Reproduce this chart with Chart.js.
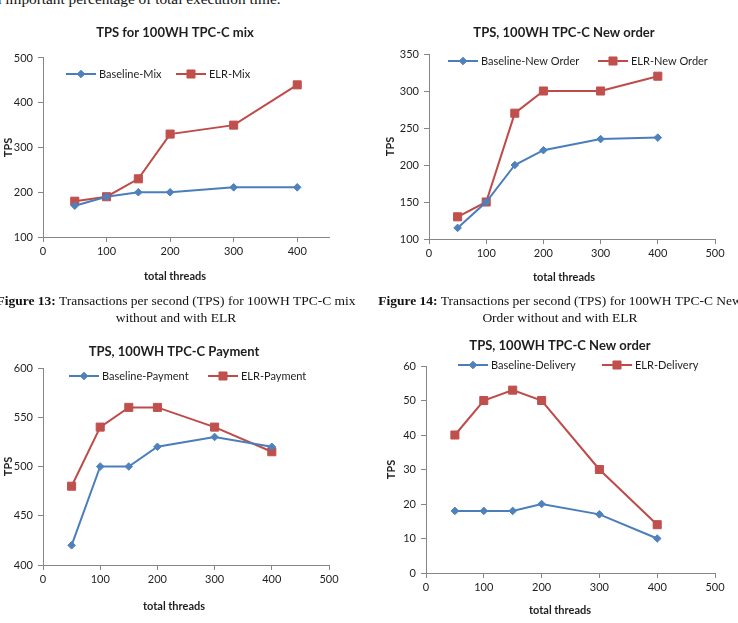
<!DOCTYPE html>
<html>
<head>
<meta charset="utf-8">
<script src="https://cdn.jsdelivr.net/npm/chart.js@4.4.1/dist/chart.umd.min.js"></script>
<style>
html,body{margin:0;padding:0;background:#fff;}
body{width:738px;height:623px;overflow:hidden;position:relative;font-family:"Liberation Serif","Times New Roman",serif;color:#111;}
canvas{position:absolute;}
.cap{position:absolute;white-space:nowrap;font-size:13.5px;line-height:17px;text-align:center;width:500px;}
</style>
</head>
<body>
<div style="position:absolute;left:-13px;top:-10.5px;font-size:15.3px;line-height:17px;white-space:nowrap;">an important percentage of total execution time.</div>
<canvas id="c1"></canvas>
<canvas id="c2"></canvas>
<canvas id="c3"></canvas>
<canvas id="c4"></canvas>
<div class="cap" style="left:-74px;top:292px;"><b>Figure 13:</b> Transactions per second (TPS) for 100WH TPC-C mix<br>without and with ELR</div>
<div class="cap" style="left:310px;top:292px;"><b>Figure 14:</b> Transactions per second (TPS) for 100WH TPC-C New<br>Order without and with ELR</div>
<script>
// ---- data ----
const threads = [50, 100, 150, 200, 300, 400];

const mixBaseline = [170, 190, 200, 200, 211, 211];
const mixELR      = [180, 190, 230, 330, 350, 440];

const newOrderBaseline = [115, 150, 200, 220, 235, 237];
const newOrderELR      = [130, 150, 270, 300, 300, 320];

const paymentBaseline = [420, 500, 500, 520, 530, 520];
const paymentELR      = [480, 540, 560, 560, 540, 515];

const deliveryBaseline = [18, 18, 18, 20, 17, 10];
const deliveryELR      = [40, 50, 53, 50, 30, 14];

const xTicksMix = [0, 100, 200, 300, 400];
const xTicks    = [0, 100, 200, 300, 400, 500];
const yTicksMix      = [100, 200, 300, 400, 500];
const yTicksNewOrder = [100, 150, 200, 250, 300, 350];
const yTicksPayment  = [400, 450, 500, 550, 600];
const yTicksDelivery = [0, 10, 20, 30, 40, 50, 60];

const titles = ['TPS for 100WH TPC-C mix', 'TPS, 100WH TPC-C New order', 'TPS, 100WH TPC-C Payment', 'TPS, 100WH TPC-C New order'];
const xAxisTitle = 'total threads';
const yAxisTitle = 'TPS';

// ---- style ----
const FONT = 'Lato, "Open Sans", sans-serif';
const TEXT = '#1e1e1e';
const AXIS = '#868686';
const BLUE_LINE = '#4A7EBB', BLUE = '#4F81BD';
const RED_LINE = '#BE4B48', RED = '#C0504D';

Chart.defaults.font.family = FONT;
Chart.defaults.color = TEXT;

function marker(ctx, style, r, x, y) {
  ctx.beginPath();
  if (style === 'rectRot') {
    ctx.moveTo(x - r, y); ctx.lineTo(x, y - r); ctx.lineTo(x + r, y); ctx.lineTo(x, y + r);
  } else {
    const s = r * Math.SQRT1_2;
    ctx.rect(x - s, y - s, 2 * s, 2 * s);
  }
  ctx.closePath();
  ctx.fill();
  ctx.stroke();
}

const innerLegend = {
  id: 'innerLegend',
  afterDatasetsDraw(chart, args, opts) {
    const ctx = chart.ctx;
    ctx.save();
    ctx.font = '11px ' + FONT;
    ctx.textBaseline = 'middle';
    chart.data.datasets.forEach((ds, i) => {
      const x = opts.xs[i], y = opts.y;
      ctx.strokeStyle = ds.borderColor; ctx.lineWidth = ds.borderWidth;
      ctx.beginPath(); ctx.moveTo(x, y); ctx.lineTo(x + opts.lineLen, y); ctx.stroke();
      ctx.fillStyle = ds.pointBackgroundColor; ctx.strokeStyle = ds.pointBorderColor; ctx.lineWidth = 1;
      marker(ctx, ds.pointStyle, ds.pointRadius, x + opts.lineLen / 2, y);
      ctx.fillStyle = TEXT;
      ctx.textAlign = 'left';
      ctx.fillText(ds.label, x + opts.lineLen + 3, y);
    });
    ctx.restore();
  }
};

function series(label, vals, blue) {
  return {
    label: label,
    data: threads.map((t, i) => ({x: t, y: vals[i]})),
    borderColor: blue ? BLUE_LINE : RED_LINE,
    backgroundColor: blue ? BLUE : RED,
    pointBackgroundColor: blue ? BLUE : RED,
    pointBorderColor: blue ? BLUE : RED,
    pointBorderWidth: 1,
    pointStyle: blue ? 'rectRot' : 'rect',
    pointRadius: blue ? 3.8 : 5.7,
    borderWidth: 2,
    tension: 0,
    fill: false
  };
}

function makeChart(id, g, datasets, xTickArr, yTickArr) {
  const cv = document.getElementById(id);
  cv.width = g.cW; cv.height = g.cH;
  cv.style.left = g.cL + 'px'; cv.style.top = g.cT + 'px';
  const tlh = 13 * 1.2;
  const tPadTop = g.titleY - g.cT - tlh / 2;
  const tPadBot = g.T - g.cT - tPadTop - tlh;
  const alh = 11 * 1.2;
  const yTitlePad = g.yTitleX - g.cL - alh / 2;
  const hx = 22;
  const subBlock = g.cT + g.cH - g.B - hx;
  const subPadBot = g.cT + g.cH - g.xTitleY - alh / 2;
  const subPadTop = subBlock - subPadBot - alh;
  const tickFont = {family: FONT, size: 11};
  const axTitleFont = {family: FONT, size: 11, weight: 'bold'};
  return new Chart(cv, {
    type: 'line',
    data: {datasets: datasets},
    options: {
      responsive: false,
      animation: false,
      devicePixelRatio: 1,
      events: [],
      layout: {padding: 0},
      plugins: {
        legend: {display: false},
        tooltip: {enabled: false},
        title: {display: true, text: g.title, color: TEXT,
                font: {family: FONT, size: 13, weight: 'bold'},
                padding: {top: tPadTop, bottom: tPadBot}},
        subtitle: {display: true, position: 'bottom', text: xAxisTitle, color: TEXT,
                font: axTitleFont, padding: {top: subPadTop, bottom: subPadBot}},
        innerLegend: {xs: g.legendXs.map(v => v - g.cL), y: g.legendY - g.cT, lineLen: 30}
      },
      scales: {
        x: {
          type: 'linear', min: g.xMin, max: g.xMax,
          afterBuildTicks: s => { s.ticks = xTickArr.map(v => ({value: v})); },
          afterFit: s => { s.height = hx; },
          ticks: {font: tickFont, color: TEXT, padding: 3, maxRotation: 0},
          grid: {drawOnChartArea: false, drawTicks: true, tickLength: 5, color: AXIS},
          border: {display: true, color: AXIS, width: 1}
        },
        y: {
          type: 'linear', min: g.yMin, max: g.yMax,
          afterBuildTicks: s => { s.ticks = yTickArr.map(v => ({value: v})); },
          afterFit: s => { s.width = g.L - g.cL; },
          ticks: {font: tickFont, color: TEXT, padding: 5},
          grid: {drawOnChartArea: false, drawTicks: true, tickLength: 5, color: AXIS},
          border: {display: true, color: AXIS, width: 1},
          title: {display: true, text: yAxisTitle, font: axTitleFont, color: TEXT, padding: {top: yTitlePad, bottom: 0}}
        },
        yRightSpace: {
          type: 'linear', position: 'right', display: true,
          afterFit: s => { s.width = g.cL + g.cW - g.R; },
          ticks: {display: false},
          grid: {display: false},
          border: {display: false}
        }
      }
    },
    plugins: [innerLegend]
  });
}

makeChart('c1', {cL: 0, cT: 12, cW: 350, cH: 280, L: 43, T: 58, R: 329, B: 237,
  titleY: 33, yTitleX: 8, xTitleY: 276, title: titles[0],
  xMin: 0, xMax: 450, yMin: 100, yMax: 500, legendXs: [66, 176], legendY: 74},
  [series('Baseline-Mix', mixBaseline, true), series('ELR-Mix', mixELR, false)], xTicksMix, yTicksMix);

makeChart('c2', {cL: 380, cT: 12, cW: 368, cH: 280, L: 429, T: 54, R: 715, B: 239,
  titleY: 33, yTitleX: 390, xTitleY: 277, title: titles[1],
  xMin: 0, xMax: 500, yMin: 100, yMax: 350, legendXs: [448, 598], legendY: 61},
  [series('Baseline-New Order', newOrderBaseline, true), series('ELR-New Order', newOrderELR, false)], xTicks, yTicksNewOrder);

makeChart('c3', {cL: 0, cT: 322, cW: 348, cH: 300, L: 43, T: 368, R: 329, B: 565,
  titleY: 352, yTitleX: 8, xTitleY: 606, title: titles[2],
  xMin: 0, xMax: 500, yMin: 400, yMax: 600, legendXs: [69, 208], legendY: 376},
  [series('Baseline-Payment', paymentBaseline, true), series('ELR-Payment', paymentELR, false)], xTicks, yTicksPayment);

makeChart('c4', {cL: 380, cT: 322, cW: 360, cH: 300, L: 426, T: 366, R: 715, B: 573,
  titleY: 346, yTitleX: 391, xTitleY: 610, title: titles[3],
  xMin: 0, xMax: 500, yMin: 0, yMax: 60, legendXs: [458, 602], legendY: 365},
  [series('Baseline-Delivery', deliveryBaseline, true), series('ELR-Delivery', deliveryELR, false)], xTicks, yTicksDelivery);
</script>
</body>
</html>
